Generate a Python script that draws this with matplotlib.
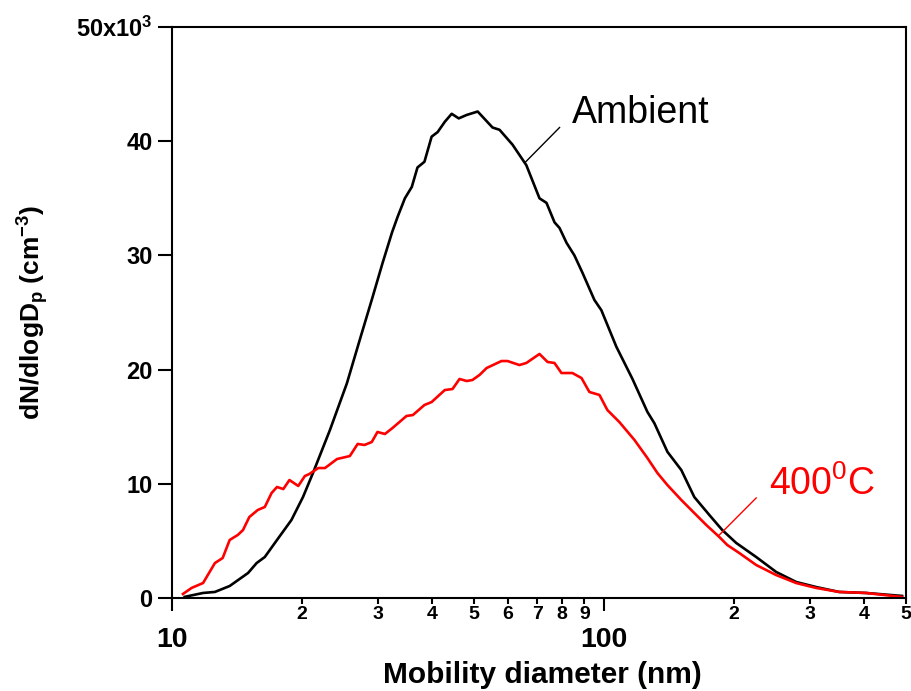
import matplotlib
matplotlib.use('Agg')
import matplotlib.pyplot as plt
from matplotlib.ticker import FixedLocator, FixedFormatter

plt.rcParams['font.family'] = ['Liberation Sans', 'DejaVu Sans']
plt.rcParams['mathtext.default'] = 'regular'

# mobility diameter (nm) and dN/dlogDp (cm^-3)
amb_d = [10.7, 11.8, 12.57, 13.6, 15.0, 15.7, 16.4, 17.5, 18.9, 20.1, 21.2, 23.2,
         25.4, 27.2, 29.1, 30.7, 32.3, 33.3, 34.6, 35.9, 37.0, 38.4, 39.9, 41.2,
         42.8, 44.4, 46.1, 48.1, 51.0, 55.2, 57.3, 61.4, 66.1, 70.9, 73.6, 76.8,
         78.9, 81.9, 85.4, 89.1, 95.0, 98.6, 106.8, 116.3, 126.0, 130.8, 140.2,
         151.0, 161.8, 175.3, 187.8, 202.3, 225.0, 250.3, 278.5, 309.7, 350.1,
         404.3, 489.7]
amb_n = [100, 440, 530, 1050, 2190, 3060, 3590, 5080, 6830, 8840, 10950, 14700,
         18800, 22600, 26300, 29300, 32000, 33400, 35000, 36000, 37700, 38200,
         40400, 40800, 41700, 42400, 42000, 42300, 42600, 41200, 41000, 39700,
         37900, 35000, 34600, 32900, 32400, 31100, 30000, 28500, 26100, 25200,
         22000, 19200, 16300, 15300, 12800, 11200, 8840, 7270, 5950, 4820, 3590,
         2280, 1400, 960, 530, 440, 180]

hot_d = [10.6, 11.1, 11.8, 12.57, 13.1, 13.6, 14.2, 14.6, 15.1, 15.8, 16.4, 17.0,
         17.5, 18.1, 18.7, 19.6, 20.3, 20.8, 21.8, 22.6, 24.1, 25.8, 26.9, 27.9,
         29.0, 29.9, 31.1, 32.4, 34.9, 36.1, 38.4, 39.9, 42.8, 44.6, 46.3, 48.1,
         49.6, 51.5, 53.5, 57.9, 59.8, 63.7, 66.1, 70.9, 74.0, 76.8, 79.7, 84.5,
         88.7, 92.5, 97.6, 101.8, 108.5, 117.6, 126.0, 132.9, 140.2, 151.0, 161.8,
         172.5, 184.9, 192.9, 205.6, 225.0, 250.3, 278.5, 309.7, 350.1, 404.3,
         489.7]
hot_n = [350, 880, 1310, 3060, 3500, 5080, 5520, 5950, 7090, 7710, 7970, 9190,
         9720, 9540, 10330, 9810, 10680, 10860, 11380, 11380, 12170, 12430, 13490,
         13400, 13660, 14540, 14360, 14890, 15940, 16020, 16900, 17160, 18210,
         18300, 19180, 19000, 19090, 19530, 20140, 20750, 20750, 20400, 20580,
         21370, 20670, 20580, 19700, 19700, 19260, 18040, 17780, 16460, 15410,
         13840, 12260, 10950, 9890, 8580, 7440, 6390, 5340, 4640, 3940, 2890,
         2010, 1310, 880, 530, 440, 90]

y_ticks = [0, 10000, 20000, 30000, 40000, 50000]
y_labels = ['0', '10', '20', '30', '40', '50x10$^3$']
x_major = [10, 100]
x_major_labels = ['10', '100']
x_minor = [20, 30, 40, 50, 60, 70, 80, 90, 200, 300, 400, 500]
x_minor_labels = ['2', '3', '4', '5', '6', '7', '8', '9', '2', '3', '4', '5']

fig = plt.figure(figsize=(9.11, 6.91), dpi=100)
ax = fig.add_axes([0.1888, 0.1346, 0.8057, 0.8263])

ax.plot(amb_d, amb_n, color='black', lw=1.9)
ax.plot(hot_d, hot_n, color='#ff0000', lw=1.9)

ax.set_xscale('log')
ax.set_xlim(10, 500)
ax.set_ylim(0, 50000)

for s in ax.spines.values():
    s.set_linewidth(1.5)

ax.set_yticks(y_ticks)
ax.set_yticklabels(y_labels, fontsize=17, fontweight='bold')
ax.tick_params(axis='y', direction='out', length=10, width=1.5, pad=4)

ax.xaxis.set_major_locator(FixedLocator(x_major))
ax.xaxis.set_major_formatter(FixedFormatter(x_major_labels))
ax.xaxis.set_minor_locator(FixedLocator(x_minor))
ax.xaxis.set_minor_formatter(FixedFormatter(x_minor_labels))
ax.tick_params(axis='x', which='major', direction='out', length=9.5, width=1.5,
               pad=11.5, labelsize=20.5)
ax.tick_params(axis='x', which='minor', direction='out', length=4.5, width=1.5,
               pad=1.5, labelsize=14)
for lab in ax.get_xticklabels(which='both'):
    lab.set_fontweight('bold')

ax.set_xlabel('Mobility diameter (nm)', fontweight='bold', fontsize=21.5,
              va='baseline')
ax.xaxis.set_label_coords(0.505, -0.149)
ax.set_ylabel('dN/dlogD$_p$ (cm$^{-3}$)', fontweight='bold', fontsize=19,
              labelpad=18)

# labels with leader lines
ax.plot([65.5, 78.9], [38100, 41200], color='black', lw=1.0)
ax.text(84.2, 41600, 'Ambient', fontsize=27, color='black', va='baseline')
ax.plot([184.9, 225.0], [5520, 8760], color='#ff0000', lw=1.0)
ax.text(241.5, 9020, '400$^0$C', fontsize=27, color='#ff0000', va='baseline')

fig.savefig('out.png', dpi=100)
